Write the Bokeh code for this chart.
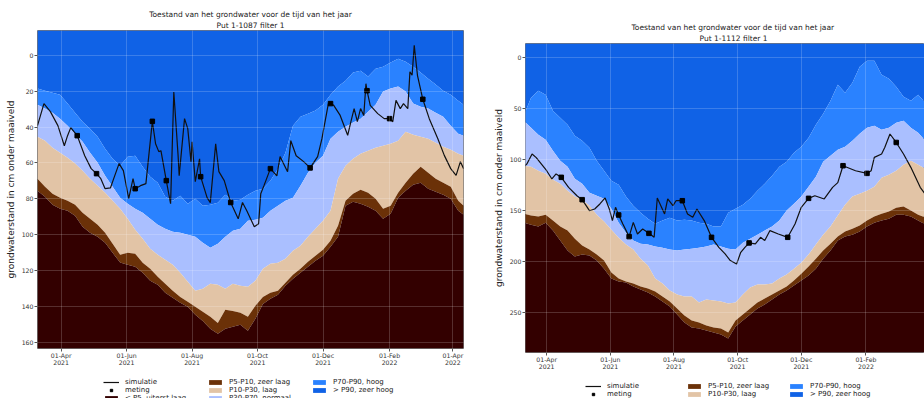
import pandas as pd
from bokeh.plotting import figure
from bokeh.models import Range1d, FixedTicker, Legend, LegendItem, Title
from bokeh.layouts import row, column
from bokeh.embed import file_html
from bokeh.resources import INLINE

FONT = "DejaVu Sans"

# ---------------- data ----------------
band_dates = list(pd.date_range("2021-03-10", "2022-04-06", freq="7D")) + [pd.Timestamp("2022-04-11")]

# Put 1-1087 filter 1 (cm below surface)
l_p90 = [18.5,19.7,20.8,21.9,26.9,32.0,37.0,40.9,45.4,52.1,57.7,61.6,56.5,56.0,62.1,67.7,71.1,78.9,81.1,78.3,82.8,80.0,83.9,83.4,82.2,77.8,81.1,80.6,77.8,75.5,74.4,70.0,63.2,54.3,39.2,34.2,32.5,30.8,27.5,21.9,17.4,14.1,9.6,8.5,11.8,7.4,6.3,4.0,1.8,3.5,6.3,9.6,13.0,16.3,19.7,21.9,25.3,27.5]
l_p70 = [27.5,29.7,32.0,35.3,39.2,43.7,48.2,54.3,59.9,67.2,73.3,79.4,82.8,85.6,87.8,91.2,94.5,96.8,98.4,99.0,100.1,101.2,104.6,107.4,105.1,101.2,97.9,96.8,92.3,91.7,90.6,86.7,83.9,81.1,79.4,72.7,65.5,59.9,56.0,46.5,42.6,39.8,37.5,35.3,31.4,27.5,20.2,18.5,17.4,20.2,26.9,28.6,29.7,32.0,34.2,39.2,43.7,44.8]
l_p30 = [45.4,47.6,51.5,54.3,57.1,60.4,64.4,68.8,72.7,76.6,81.1,85.6,91.2,97.3,102.3,107.9,111.3,114.1,116.9,121.3,126.4,131.4,130.3,127.5,128.0,130.3,127.5,128.6,129.2,125.8,119.1,116.3,115.8,113.5,109.1,106.3,101.2,96.8,92.3,86.7,68.8,61.6,57.7,54.9,53.2,51.5,50.4,49.3,47.6,42.6,44.3,45.4,46.5,48.7,51.0,52.6,54.9,56.0]
l_p10 = [68.8,73.3,77.2,79.4,81.1,83.4,87.8,91.2,94.5,99.0,105.1,111.3,110.2,110.7,115.8,119.1,123.6,127.5,131.4,134.8,137.5,140.3,143.1,145.9,149.3,142.0,142.6,143.7,145.9,139.8,134.8,132.5,131.4,126.9,122.5,119.1,115.2,111.8,108.5,103.5,95.1,81.1,77.2,75.0,76.6,80.0,85.6,83.9,76.6,71.1,66.0,62.1,65.5,68.8,71.1,73.3,81.1,83.9]
l_p5 = [75.5,78.9,83.4,85.6,86.7,89.5,95.6,99.0,101.2,104.6,110.2,115.6,116.9,118.0,121.3,125.8,128.0,132.5,135.3,138.1,140.3,144.8,148.2,152.6,155.4,152.6,151.5,150.4,153.7,147.0,138.7,135.9,133.6,128.6,124.7,121.3,118.0,114.6,111.8,106.8,101.2,83.9,81.7,82.8,84.5,86.7,91.2,88.4,79.4,75.5,72.2,71.1,74.4,76.1,77.8,80.0,86.7,88.9]

l_sim_dates = ["2021-03-10","2021-03-16","2021-03-22","2021-03-29","2021-04-04","2021-04-07","2021-04-10","2021-04-13","2021-04-16","2021-04-23",
               "2021-04-29","2021-05-04","2021-05-08","2021-05-12","2021-05-17","2021-05-20","2021-05-25","2021-05-29","2021-06-03","2021-06-07",
               "2021-06-09","2021-06-14","2021-06-19","2021-06-25","2021-06-28","2021-07-01","2021-07-03","2021-07-08","2021-07-12","2021-07-15",
               "2021-07-19","2021-07-20","2021-07-25","2021-07-28","2021-07-31","2021-08-01","2021-08-04","2021-08-08","2021-08-09","2021-08-15",
               "2021-08-18","2021-08-23","2021-08-26","2021-08-31","2021-09-06","2021-09-13","2021-09-17","2021-09-21","2021-09-28","2021-10-02",
               "2021-10-04","2021-10-07","2021-10-13","2021-10-19","2021-10-22","2021-10-29","2021-11-01","2021-11-06","2021-11-13","2021-11-19",
               "2021-11-26","2021-11-30","2021-12-06","2021-12-08","2021-12-11","2021-12-17","2021-12-24","2021-12-27","2021-12-30","2022-01-02",
               "2022-01-05","2022-01-08","2022-01-10","2022-01-11","2022-01-14","2022-01-21","2022-01-27","2022-02-01","2022-02-04","2022-02-07",
               "2022-02-11","2022-02-14","2022-02-18","2022-02-20","2022-02-22","2022-02-24","2022-02-27","2022-03-04","2022-03-10","2022-03-18",
               "2022-03-24","2022-03-30","2022-04-04","2022-04-08","2022-04-11"]
l_sim_vals = [39.2,26.9,31.4,39.2,50.4,44.8,40.3,42.6,44.8,56.0,
              63.2,66.0,68.8,74.4,73.9,68.8,60.4,64.3,80.0,68.8,
              74.4,72.7,71.6,36.8,49.3,53.7,53.2,69.9,82.8,20.4,
              56.0,67.2,35.3,40.9,59.3,48.2,70.5,57.7,67.7,79.4,
              82.2,49.3,64.9,69.9,82.1,91.2,82.1,86.7,95.6,94.0,
              77.2,72.7,63.2,67.2,56.5,64.9,47.6,56.0,59.3,62.8,
              56.5,46.5,26.9,26.9,27.9,33.5,44.6,37.0,29.7,37.0,
              29.7,33.6,15.8,19.7,27.9,32.5,35.3,35.3,37.0,25.1,
              29.7,26.9,29.7,9.2,11.1,-5.6,11.1,24.5,35.3,46.5,
              55.8,63.2,67.0,59.3,63.2]
l_met_dates = ["2021-04-16","2021-05-04","2021-06-09","2021-06-25","2021-07-08","2021-08-09","2021-09-06",
               "2021-10-13","2021-11-19","2021-12-08","2022-01-11","2022-02-01","2022-03-04"]
l_met_vals = [44.8,66.0,74.4,36.8,69.9,67.7,82.1,63.2,62.8,26.9,19.7,35.3,24.5]

# Put 1-1112 filter 1
r_p90 = [56.8,39.2,32.3,36.2,51.9,58.8,65.6,76.4,81.3,88.1,100.9,110.7,120.5,124.4,136.1,145.0,151.8,157.7,162.6,159.6,156.7,159.6,158.7,159.6,161.6,162.6,165.5,165.5,151.8,147.9,144.0,138.1,130.3,123.4,115.6,106.8,101.9,93.0,87.2,78.4,65.6,54.8,42.1,26.4,34.3,24.5,8.8,2.9,2.9,16.6,20.6,28.4,38.2,42.1,36.2,44.1,48.0,49.9]
r_p70 = [61.7,68.6,75.4,80.3,91.1,100.9,106.8,118.5,123.4,132.2,135.2,138.1,147.9,161.6,171.4,179.2,182.2,183.1,185.1,186.1,188.0,189.0,188.0,187.1,186.1,185.1,183.1,185.1,187.1,188.0,181.2,177.3,173.4,169.4,165.5,159.6,149.8,143.0,136.1,126.3,116.5,101.9,96.0,90.1,87.2,81.3,74.4,68.6,66.6,70.5,68.6,63.7,61.7,68.6,73.5,81.3,85.2,87.2]
r_p30 = [105.8,106.8,110.7,113.6,119.5,123.4,130.3,136.1,139.1,145.0,153.8,160.6,168.5,176.3,183.1,188.0,196.9,203.7,216.4,221.3,228.2,232.1,234.1,234.1,240.0,237.0,238.0,239.0,240.9,240.0,232.1,225.3,222.3,222.3,221.3,216.4,212.5,206.7,200.8,192.9,183.1,173.4,165.5,154.7,144.0,136.1,133.2,130.3,126.3,117.5,114.6,110.7,104.8,100.9,104.8,108.7,110.7,112.6]
r_p10 = [152.8,154.7,155.7,153.8,159.6,165.5,169.4,177.3,184.1,188.0,192.9,198.8,210.6,216.4,219.4,221.3,224.3,226.2,229.2,234.1,239.0,245.8,252.7,257.6,259.5,262.5,264.4,265.4,269.3,257.6,251.7,245.8,240.0,236.0,232.1,228.2,224.3,218.4,211.6,204.7,196.9,189.0,182.2,175.3,170.4,167.5,164.5,159.6,155.7,152.8,150.8,146.9,145.9,149.8,153.8,156.7,158.7,160.6]
r_p5 = [161.6,163.6,165.5,161.6,169.4,179.2,189.0,194.9,192.9,193.9,198.8,206.7,216.4,219.4,220.4,224.3,227.2,230.2,234.1,239.0,243.9,251.7,259.5,264.4,265.4,267.4,269.3,271.3,275.2,263.5,257.6,251.7,245.8,241.9,237.0,232.1,228.2,223.3,218.4,213.5,206.7,196.9,189.0,179.2,175.3,173.4,170.4,165.5,161.6,159.6,157.7,153.8,153.8,155.7,159.6,163.6,165.5,167.5]

r_sim_dates = ["2021-03-11","2021-03-13","2021-03-18","2021-03-22","2021-04-01","2021-04-06","2021-04-10","2021-04-15","2021-04-22","2021-04-30",
               "2021-05-05","2021-05-12","2021-05-17","2021-05-22","2021-05-27","2021-05-31","2021-06-03","2021-06-06","2021-06-09","2021-06-13",
               "2021-06-19","2021-06-23","2021-06-27","2021-07-02","2021-07-08","2021-07-13","2021-07-16","2021-07-23","2021-07-26","2021-07-31",
               "2021-08-03","2021-08-09","2021-08-14","2021-08-19","2021-08-23","2021-08-30","2021-09-06","2021-09-13","2021-09-19","2021-09-24",
               "2021-09-30","2021-10-04","2021-10-08","2021-10-12","2021-10-18","2021-10-23","2021-10-27","2021-11-01","2021-11-09","2021-11-18",
               "2021-11-25","2021-12-01","2021-12-08","2021-12-14","2021-12-23","2021-12-31","2022-01-05","2022-01-10","2022-01-22","2022-02-02",
               "2022-02-06","2022-02-09","2022-02-16","2022-02-19","2022-02-24","2022-03-02","2022-03-09","2022-03-16","2022-03-25","2022-03-31"]
r_sim_vals = [105.8,104.1,94.3,97.9,110.7,118.8,113.9,117.2,127.0,135.2,
              139.1,149.9,148.2,143.3,137.4,148.2,159.6,146.6,154.1,162.9,
              175.3,161.3,172.7,167.8,172.1,176.0,137.4,153.1,138.4,145.0,
              140.1,140.1,153.1,156.4,148.2,159.6,176.0,185.8,192.3,198.8,
              202.1,190.7,185.8,181.5,182.5,176.0,179.2,169.4,172.7,176.0,
              162.9,146.6,137.8,135.2,138.4,127.0,122.4,105.8,110.7,113.3,
              110.7,97.6,94.3,87.9,74.7,83.0,94.3,107.4,127.0,135.2]
r_met_dates = ["2021-04-15","2021-05-05","2021-06-09","2021-06-19","2021-07-08","2021-08-09","2021-09-06",
               "2021-10-12","2021-11-18","2021-12-08","2022-01-10","2022-02-02","2022-03-02"]
r_met_vals = [117.2,139.1,154.1,175.3,172.1,140.1,176.0,181.5,176.0,137.8,105.8,113.3,83.0]

tick_dates = ["2021-04-01","2021-06-01","2021-08-01","2021-10-01","2021-12-01","2022-02-01","2022-04-01"]
tick_labels = ["01-Apr\n2021","01-Jun\n2021","01-Aug\n2021","01-Oct\n2021","01-Dec\n2021","01-Feb\n2022","01-Apr\n2022"]
l_yticks = [0, 20, 40, 60, 80, 100, 120, 140, 160]
r_yticks = [0, 50, 100, 150, 200, 250]

legend_labels = ["simulatie", "meting", "< P5, uiterst laag", "P5-P10, zeer laag", "P10-P30, laag",
                 "P30-P70, normaal", "P70-P90, hoog", "> P90, zeer hoog"]

C_P5 = "#330000"
C_P5_10 = "#6B3108"
C_P10_30 = "#E2C4A6"
C_P30_70 = "#AABFFF"
C_P70_90 = "#2A82FF"
C_P90 = "#1062E6"

MAIN_TITLE = "Toestand van het grondwater voor de tijd van het jaar"
YLABEL = "grondwaterstand in cm onder maaiveld"


def ms(s):
    return int(pd.Timestamp(s).value // 10**6)


tick_ms = [ms(d) for d in tick_dates]
base = pd.Timestamp("2021-04-01")


def day(off):
    return (base + pd.Timedelta(days=off)).value / 1e6


def draw_series(fig, bands, sim_d, sim_v, met_d, met_v, ylo, yhi):
    p90, p70, p30, p10, p5 = bands
    n = len(band_dates)
    r = []
    r.append(fig.varea(x=band_dates, y1=[yhi] * n, y2=p90, fill_color=C_P90))
    r.append(fig.varea(x=band_dates, y1=p90, y2=p70, fill_color=C_P70_90))
    r.append(fig.varea(x=band_dates, y1=p70, y2=p30, fill_color=C_P30_70))
    r.append(fig.varea(x=band_dates, y1=p30, y2=p10, fill_color=C_P10_30))
    r.append(fig.varea(x=band_dates, y1=p10, y2=p5, fill_color=C_P5_10))
    r.append(fig.varea(x=band_dates, y1=p5, y2=[ylo] * n, fill_color=C_P5))
    rs = fig.line(x=pd.to_datetime(sim_d), y=sim_v, line_color="#111111", line_width=1.2)
    rm = fig.scatter(x=pd.to_datetime(met_d), y=met_v, marker="square", size=4.5,
                     fill_color="black", line_color="black")
    # order: simulatie, meting, <P5, P5-P10, P10-P30, P30-P70, P70-P90, >P90
    return [rs, rm, r[5], r[4], r[3], r[2], r[1], r[0]]


def title(text, align, offset, standoff):
    return Title(text=text, align=align, offset=offset, text_font=FONT, text_font_size="7.5px",
                 text_font_style="normal", text_color="#222222", text_line_height=1.0, standoff=standoff)


def panel(sub, bands, sim_d, sim_v, met_d, met_v, yticks, ylo, yhi, x0, x1,
          width, height, bl, br, bt, bb, t_align, t_off_sub, t_off_main):
    p = figure(width=width, height=height, x_axis_type="datetime", output_backend="svg",
               toolbar_location=None, x_range=Range1d(x0, x1), y_range=Range1d(ylo, yhi),
               min_border_left=bl, min_border_right=br, min_border_top=bt, min_border_bottom=bb,
               frame_align=False)
    draw_series(p, bands, sim_d, sim_v, met_d, met_v, ylo, yhi)

    p.xaxis.ticker = FixedTicker(ticks=tick_ms)
    p.xaxis.major_label_overrides = {t: l for t, l in zip(tick_ms, tick_labels)}
    p.yaxis.ticker = FixedTicker(ticks=yticks)
    p.xgrid.ticker = FixedTicker(ticks=tick_ms)
    p.ygrid.ticker = FixedTicker(ticks=yticks)
    p.grid.grid_line_color = "white"
    p.grid.grid_line_alpha = 0.18
    p.grid.level = "overlay"

    p.axis.axis_line_color = None
    p.axis.minor_tick_line_color = None
    p.axis.major_tick_out = 3
    p.axis.major_tick_in = 0
    p.axis.major_tick_line_color = "#555555"
    p.axis.major_label_text_font = FONT
    p.axis.major_label_text_font_size = "6.2px"
    p.axis.major_label_text_color = "#333333"
    p.xaxis.major_label_standoff = 0
    p.xaxis.major_label_text_line_height = 1.05
    p.yaxis.major_label_standoff = 1
    p.yaxis.axis_label = YLABEL
    p.yaxis.axis_label_text_font = FONT
    p.yaxis.axis_label_text_font_size = "9px"
    p.yaxis.axis_label_text_font_style = "normal"
    p.yaxis.axis_label_text_color = "#222222"
    p.yaxis.axis_label_standoff = 3
    p.outline_line_color = "#777777"
    p.border_fill_color = "white"

    p.add_layout(title(sub, t_align, t_off_sub, 2), "above")
    p.add_layout(title(MAIN_TITLE, t_align, t_off_main, -2), "above")
    return p


def leg(items, x, y):
    return Legend(items=items, location=(x, y), orientation="vertical", spacing=0, padding=0, margin=0,
                  border_line_color=None, background_fill_alpha=0, glyph_width=16, glyph_height=6,
                  label_standoff=6, label_height=7, label_text_font_size="7px", label_text_font=FONT,
                  label_text_color="#222222")


def legend_fig(bands, sim_d, sim_v, met_d, met_v, ylo, yhi, width, height, xs, y3, y2):
    # the series are drawn again here only to feed the legend; this figure's ranges keep them out of view
    q = figure(width=width, height=height, output_backend="svg", toolbar_location=None,
               x_axis_location=None, y_axis_location=None, min_border=0,
               x_range=Range1d(0, 1), y_range=Range1d(0, 1), frame_align=False)
    q.outline_line_color = None
    q.grid.visible = False
    q.border_fill_color = "white"
    q.background_fill_color = "white"
    rends = draw_series(q, bands, sim_d, sim_v, met_d, met_v, ylo, yhi)
    items = [LegendItem(label=lab, renderers=[r]) for lab, r in zip(legend_labels, rends)]
    q.add_layout(leg(items[0:3], xs[0], y3))
    q.add_layout(leg(items[3:6], xs[1], y3))
    q.add_layout(leg(items[6:8], xs[2], y2))
    return q


l_bands = (l_p90, l_p70, l_p30, l_p10, l_p5)
r_bands = (r_p90, r_p70, r_p30, r_p10, r_p5)

p1 = panel("Put 1-1087 filter 1", l_bands, l_sim_dates, l_sim_vals, l_met_dates, l_met_vals,
           l_yticks, 163.6, -13.9, day(-22.0), day(374.9), 490, 372, 37, 27, 30, 24,
           "center", 0, 0)
p2 = panel("Put 1-1112 filter 1", r_bands, r_sim_dates, r_sim_vals, r_met_dates, r_met_vals,
           r_yticks, 288.9, -14.0, day(-20.3), day(362.1), 434, 376, 32, 0, 43, 24,
           "left", 174, 106)

lg1 = legend_fig(l_bands, l_sim_dates, l_sim_vals, l_met_dates, l_met_vals, 163.6, -13.9,
                 490, 26, (103, 207, 311), -3.7, 4.3)
lg2 = legend_fig(r_bands, r_sim_dates, r_sim_vals, r_met_dates, r_met_vals, 288.9, -14.0,
                 434, 22, (95, 196, 298), -8, 0)

layout = row(column(p1, lg1), column(p2, lg2))
open("out.html", "w").write(file_html(layout, INLINE))
